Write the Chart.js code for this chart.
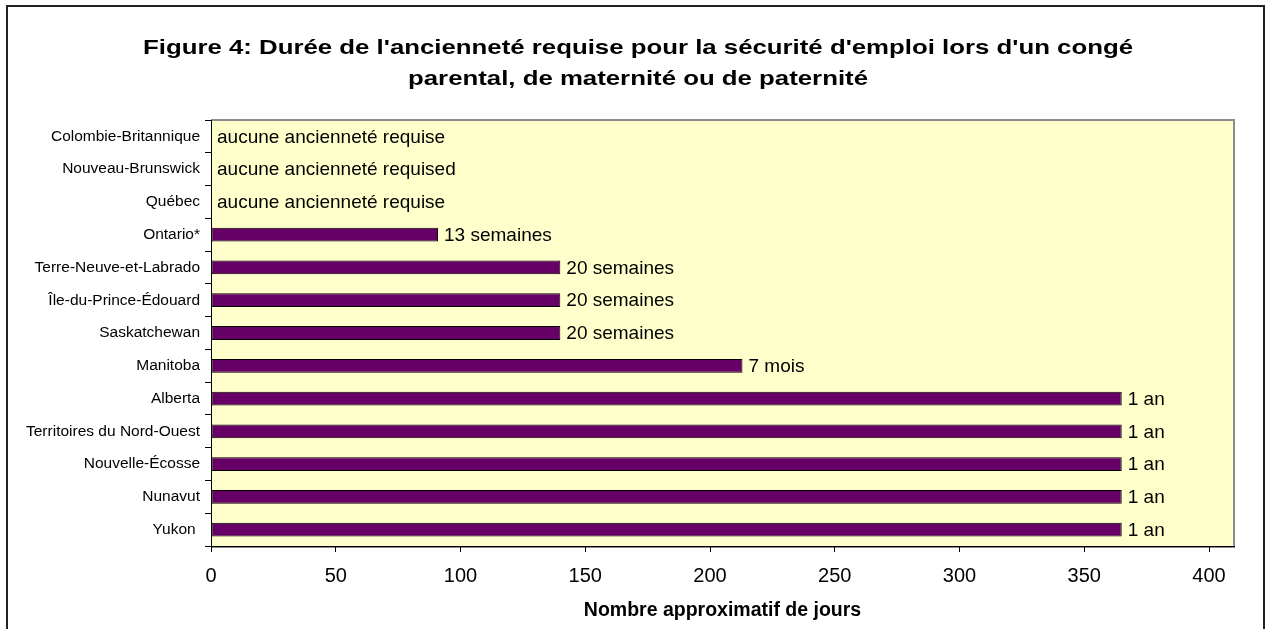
<!DOCTYPE html>
<html>
<head>
<meta charset="utf-8">
<script src="https://cdn.jsdelivr.net/npm/chart.js@4/dist/chart.umd.min.js"></script>
<style>
  html, body { margin: 0; padding: 0; background: #fff; }
  #wrap { width: 1267px; height: 629px; position: relative; }
</style>
</head>
<body>
<div id="wrap"><canvas id="myChart" width="1267" height="629"></canvas></div>
<script>
// data (top to bottom)
let provinces = [
    "Colombie-Britannique", "Nouveau-Brunswick", "Québec", "Ontario*",
    "Terre-Neuve-et-Labrado", "Île-du-Prince-Édouard", "Saskatchewan",
    "Manitoba", "Alberta", "Territoires du Nord-Ouest", "Nouvelle-Écosse",
    "Nunavut", "Yukon "
];
let days = [0, 0, 0, 91, 140, 140, 140, 213, 365, 365, 365, 365, 365];
let barLabels = [
    "aucune ancienneté requise", "aucune ancienneté requised", "aucune ancienneté requise",
    "13 semaines", "20 semaines", "20 semaines", "20 semaines", "7 mois",
    "1 an", "1 an", "1 an", "1 an", "1 an"
];
let xTicks = [0, 50, 100, 150, 200, 250, 300, 350, 400];
let titleLines = [
    "Figure 4: Durée de l'ancienneté requise pour la sécurité d'emploi lors d'un congé",
    "parental, de maternité ou de paternité"
];
let xTitle = "Nombre approximatif de jours";

const FONT = "'Liberation Sans', Arial, sans-serif";

// background, frame, title and the bar labels
const decor = {
    id: "decor",
    beforeDraw(chart) {
        let ctx = chart.ctx;
        let a = chart.chartArea;
        ctx.save();
        ctx.fillStyle = "#fff";
        ctx.fillRect(0, 0, chart.width, chart.height);

        // outer frame
        ctx.strokeStyle = "#222";
        ctx.lineWidth = 2;
        ctx.strokeRect(7, 6, 1257, 700);

        // plot area
        ctx.fillStyle = "#FFFFCC";
        ctx.fillRect(a.left, a.top, a.right - a.left, a.bottom - a.top);
        ctx.strokeStyle = "#8c8c8c";
        ctx.lineWidth = 2;
        ctx.beginPath();
        ctx.moveTo(a.left, a.top);
        ctx.lineTo(a.right, a.top);
        ctx.lineTo(a.right, a.bottom + 1);
        ctx.lineTo(a.left, a.bottom + 1);
        ctx.stroke();

        // title, stretched a bit wider like the original
        ctx.fillStyle = "#000";
        ctx.font = "bold 21px " + FONT;
        ctx.textAlign = "center";
        ctx.textBaseline = "middle";
        let sx = 990 / ctx.measureText(titleLines[0]).width;
        ctx.translate(638, 0);
        ctx.scale(sx, 1);
        ctx.fillText(titleLines[0], 0, 48);
        ctx.fillText(titleLines[1], 0, 79);
        ctx.restore();
    },
    afterDatasetsDraw(chart) {
        let ctx = chart.ctx;
        let meta = chart.getDatasetMeta(0);
        ctx.save();
        ctx.fillStyle = "#000";
        ctx.font = "19px " + FONT;
        ctx.textAlign = "left";
        ctx.textBaseline = "middle";
        meta.data.forEach((bar, i) => {
            ctx.fillText(barLabels[i], bar.x + 6, bar.y + 1);
        });
        ctx.restore();
    }
};

let ctx = document.getElementById("myChart").getContext("2d");
let myChart = new Chart(ctx, {
    type: "bar",
    data: {
        labels: provinces,
        datasets: [{
            data: days,
            backgroundColor: "#660066",
            borderColor: "#000",
            borderWidth: 1,
            borderSkipped: false,
            barPercentage: 0.42,
            categoryPercentage: 1
        }]
    },
    options: {
        indexAxis: "y",
        responsive: false,
        animation: false,
        layout: { padding: { left: 0, top: 120, right: 33, bottom: 0 } },
        plugins: {
            legend: { display: false },
            tooltip: { enabled: false }
        },
        scales: {
            x: {
                min: 0,
                max: 410,
                ticks: {
                    color: "#000",
                    padding: 12,
                    font: { family: FONT, size: 20 }
                },
                afterBuildTicks(scale) {
                    scale.ticks = xTicks.map(v => ({ value: v }));
                },
                afterFit(scale) { scale.height = 83; },
                grid: { drawOnChartArea: false, tickLength: 6, color: "#000" },
                border: { color: "#000", width: 1 },
                title: {
                    display: true,
                    text: xTitle,
                    color: "#000",
                    font: { family: FONT, size: 19.5, weight: "bold" },
                    padding: { top: 0, bottom: 7 }
                }
            },
            y: {
                ticks: {
                    color: "#000",
                    padding: 5,
                    font: { family: FONT, size: 15.5 }
                },
                afterFit(scale) { scale.width = 211; },
                grid: { drawOnChartArea: false, tickLength: 6, color: "#000", offset: true },
                border: { color: "#000", width: 1 }
            }
        }
    },
    plugins: [decor]
});
</script>
</body>
</html>
